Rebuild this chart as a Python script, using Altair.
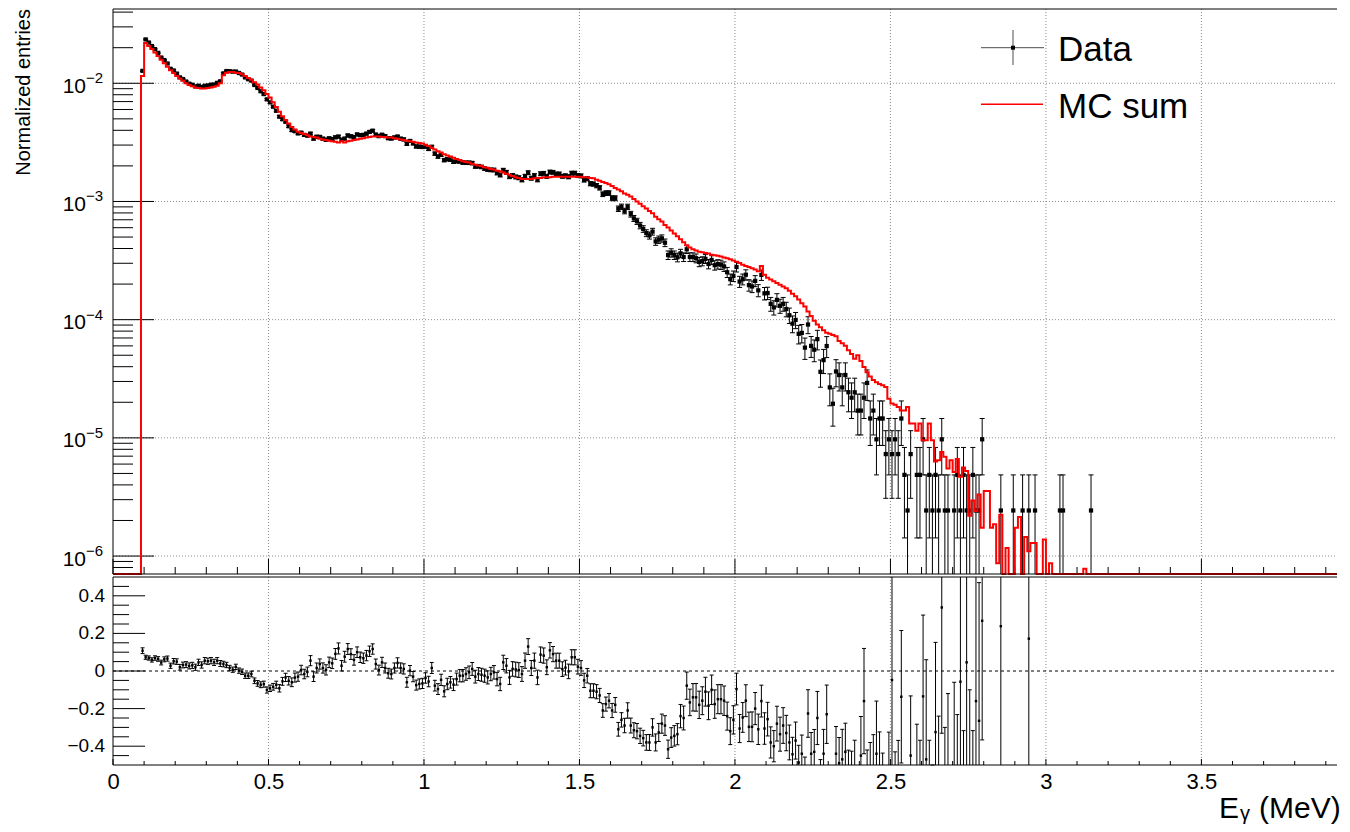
import math
import altair as alt
import numpy as np
import pandas as pd

# ---------------- values ----------------
BIN_WIDTH = 0.01
MC_FIRST_BIN = 0.09          # low edge of first non-empty MC bin
mc_sum = [
    # 0.09-0.18
    0.0115, 0.0219, 0.0207, 0.0195, 0.0182, 0.0170, 0.0158, 0.0148, 0.0138, 0.0129,
    # 0.19-0.28
    0.0122, 0.0115, 0.0110, 0.0105, 0.0100, 0.00966, 0.00944, 0.00923, 0.00912, 0.00902,
    # 0.29-0.38
    0.00902, 0.00912, 0.00923, 0.00933, 0.00955, 0.0100, 0.0117, 0.0123, 0.01245, 0.01245,
    # 0.39-0.48
    0.0123, 0.0122, 0.0119, 0.0115, 0.0111, 0.0107, 0.0102, 0.00977, 0.00923, 0.00871,
    # 0.49-0.58
    0.00813, 0.00759, 0.00692, 0.00631, 0.00575, 0.00525, 0.00490, 0.00457, 0.00427, 0.00407,
    # 0.59-0.68
    0.00389, 0.00380, 0.00372, 0.00363, 0.00355, 0.00351, 0.00347, 0.00339, 0.00335, 0.00331,
    # 0.69-0.78
    0.00327, 0.00324, 0.00320, 0.00316, 0.00324, 0.00316, 0.00324, 0.00327, 0.00331, 0.00335,
    # 0.79-0.88
    0.00339, 0.00343, 0.00347, 0.00351, 0.00355, 0.00355, 0.00355, 0.00351, 0.00351, 0.00347,
    # 0.89-0.98
    0.00347, 0.00343, 0.00339, 0.00335, 0.00331, 0.00327, 0.00324, 0.00320, 0.00316, 0.00313,
    # 0.99-1.08
    0.00309, 0.00302, 0.00295, 0.00285, 0.00275, 0.00266, 0.00260, 0.00251, 0.00245, 0.00240,
    # 1.09-1.18
    0.00234, 0.00229, 0.00224, 0.00219, 0.00216, 0.00214, 0.00209, 0.00204, 0.00202, 0.00200,
    # 1.19-1.28
    0.00195, 0.00193, 0.00188, 0.00186, 0.00182, 0.00180, 0.00176, 0.00172, 0.00168, 0.00164,
    # 1.29-1.38
    0.00160, 0.00158, 0.00155, 0.00155, 0.00155, 0.00155, 0.00157, 0.00158, 0.00158, 0.00160,
    # 1.39-1.48
    0.00160, 0.00160, 0.00162, 0.00162, 0.00162, 0.00162, 0.00162, 0.00162, 0.00162, 0.00162,
    # 1.49-1.58
    0.00162, 0.00162, 0.00160, 0.00160, 0.00158, 0.00157, 0.00153, 0.00150, 0.00146, 0.00143,
    # 1.59-1.68
    0.00140, 0.00135, 0.00130, 0.00126, 0.00122, 0.00117, 0.00114, 0.00110, 0.00105, 0.00100,
    # 1.69-1.78
    0.000955, 0.000912, 0.000871, 0.000832, 0.000794, 0.000741, 0.000708, 0.000676, 0.000631, 0.000603,
    # 1.79-1.88
    0.000569, 0.000537, 0.000507, 0.000479, 0.000452, 0.000427, 0.000407, 0.000394, 0.000385, 0.000376,
    # 1.89-1.98
    0.000372, 0.000367, 0.000363, 0.000355, 0.000351, 0.000347, 0.000343, 0.000335, 0.000331, 0.000324,
    # 1.99-2.08
    0.000316, 0.000309, 0.000302, 0.000292, 0.000285, 0.000279, 0.000272, 0.000266, 0.000257, 0.000285,
    # 2.09-2.18
    0.000240, 0.000226, 0.000219, 0.000211, 0.000204, 0.000197, 0.000191, 0.000184, 0.000176, 0.000166,
    # 2.19-2.28
    0.000158, 0.000148, 0.000138, 0.000129, 0.0001175, 0.0001072, 0.0000977, 0.0000912, 0.0000861, 0.0000813,
    # 2.29-2.38
    0.0000776, 7.59e-5, 7.41e-5, 7.24e-5, 6.61e-5, 6.31e-5, 6.03e-5, 5.50e-5, 5.13e-5, 4.68e-5,
    # 2.39-2.48
    5.01e-5, 4.47e-5, 3.98e-5, 3.59e-5, 3.31e-5, 3.09e-5, 2.95e-5, 2.85e-5, 2.79e-5, 2.69e-5,
    # 2.49-2.58
    2.14e-5, 1.95e-5, 1.91e-5, 1.82e-5, 1.70e-5, 1.70e-5, 1.82e-5, 1.32e-5, 1.32e-5, 1.15e-5,
    # 2.59-2.68
    1.32e-5, 9.55e-6, 9.55e-6, 1.32e-5, 9.55e-6, 6.31e-6, 6.46e-6, 7.59e-6, 6.92e-6, 5.50e-6,
    # 2.69-2.78
    6.46e-6, 5.13e-6, 6.61e-6, 4.68e-6, 5.62e-6, 5.25e-6, 2.19e-6, 2.95e-6, 2.40e-6, 3.31e-6,
    # 2.79-2.88
    1.74e-6, 3.55e-6, 3.55e-6, 1.74e-6, 1.86e-6, 8.7e-7, 2.24e-6, 0, 1.17e-6, 0,
    # 2.89-2.98
    0, 1.74e-6, 2.14e-6, 0, 1.45e-6, 1.10e-6, 1.29e-6, 1.29e-6, 0, 0,
    # 2.99-3.08
    1.38e-6, 0, 8.7e-7, 0, 0, 0, 0, 0, 0, 0,
    # 3.09-3.12
    0, 0, 0, 7.8e-7,
]

DATA_FIRST_BIN = 0.09
data_norm = [
    # 0.09-0.18
    0.01274, 0.02350, 0.02213, 0.02065, 0.01946, 0.01809, 0.01651, 0.01572, 0.01471, 0.01326,
    # 0.19-0.28
    0.01283, 0.01208, 0.01122, 0.01084, 0.01034, 0.00992, 0.00972, 0.00941, 0.00954, 0.00931,
    # 0.29-0.38
    0.00952, 0.00959, 0.00974, 0.00976, 0.01008, 0.01040, 0.01213, 0.01269, 0.01265, 0.01254,
    # 0.39-0.48
    0.01257, 0.01222, 0.01185, 0.01121, 0.01082, 0.01053, 0.00967, 0.00913, 0.00856, 0.00810,
    # 0.49-0.58
    0.00731, 0.00689, 0.00634, 0.00585, 0.00522, 0.00496, 0.00473, 0.00433, 0.00401, 0.00393,
    # 0.59-0.68
    0.00377, 0.00382, 0.00366, 0.00361, 0.00375, 0.00340, 0.00353, 0.00352, 0.00340, 0.00333,
    # 0.69-0.78
    0.00342, 0.00337, 0.00349, 0.00354, 0.00333, 0.00340, 0.00362, 0.00356, 0.00351, 0.00369,
    # 0.79-0.88
    0.00364, 0.00366, 0.00375, 0.00388, 0.00397, 0.00368, 0.00357, 0.00367, 0.00357, 0.00343,
    # 0.89-0.98
    0.00341, 0.00348, 0.00354, 0.00340, 0.00335, 0.00307, 0.00325, 0.00310, 0.00292, 0.00291,
    # 0.99-1.08
    0.00289, 0.00291, 0.00278, 0.00290, 0.00254, 0.00240, 0.00248, 0.00224, 0.00228, 0.002256,
    # 1.09-1.18
    0.002169, 0.002192, 0.002184, 0.002135, 0.002125, 0.002125, 0.002113, 0.001979, 0.001988, 0.00196,
    # 1.19-1.28
    0.001901, 0.001864, 0.00185, 0.001847, 0.001742, 0.001676, 0.001841, 0.001768, 0.001623, 0.001658,
    # 1.29-1.38
    0.001613, 0.001588, 0.001525, 0.001635, 0.001752, 0.001575, 0.001656, 0.001526, 0.001717, 0.001731,
    # 1.39-1.48
    0.001632, 0.001776, 0.001766, 0.001709, 0.001709, 0.001636, 0.001649, 0.001617, 0.001738, 0.001738,
    # 1.49-1.58
    0.001657, 0.001646, 0.00152, 0.00156, 0.001414, 0.001405, 0.001362, 0.001305, 0.001153, 0.001178,
    # 1.59-1.68
    0.001179, 0.001067, 0.001066, 0.000869, 0.000903, 0.000831, 0.000901, 0.000781, 0.000719, 0.00068,
    # 1.69-1.78
    0.000626, 0.000586, 0.00054, 0.000516, 0.000556, 0.000459, 0.000476, 0.000487, 0.000448, 0.000352,
    # 1.79-1.88
    0.000368, 0.000352, 0.000337, 0.000364, 0.000339, 0.000394, 0.000339, 0.000339, 0.000331, 0.000308,
    # 1.89-1.98
    0.000313, 0.000327, 0.000296, 0.00032, 0.000289, 0.000295, 0.000292, 0.000282, 0.000252, 0.00022,
    # 1.99-2.08
    0.000234, 0.000279, 0.00021, 0.00022, 0.00024, 0.000196, 0.000191, 0.000213, 0.000177, 0.000239,
    # 2.09-2.18
    0.000167, 0.000168, 0.000136, 0.000127, 0.000147, 0.000131, 0.000136, 0.000123, 0.000109, 0.0000925,
    # 2.19-2.28
    0.0000995, 0.0000759, 0.0000773, 0.000058, 0.000091, 0.000060, 0.0000557, 0.0000684, 0.0000362, 0.0000455,
    # 2.29
    0.0000598,
]

TAIL_FIRST_BIN = 2.30
ENTRY_WEIGHT = 2.43e-6       # normalized height of one data entry
data_tail_counts = [
    # 2.30-2.39
    11, 8, 15, 14, 11, 14, 10, 9, 10, 7,
    # 2.40-2.49
    7, 9, 12, 6, 7, 4, 6, 6, 3, 4,
    # 2.50-2.59
    3, 4, 3, 6, 2, 1, 3, 0, 2, 2,
    # 2.60-2.69
    4, 1, 2, 1, 2, 1, 4, 1, 1, 0,
    # 2.70-2.79
    1, 2, 1, 2, 1, 1, 2, 1, 1, 4,
    # 2.80-2.89
    0, 0, 0, 0, 0, 1, 0, 0, 0, 1,
    # 2.90-2.99
    0, 0, 1, 0, 1, 0, 1, 0, 0, 0,
    # 3.00-3.09
    0, 0, 0, 0, 1, 1, 0, 0, 0, 0,
    # 3.10-3.14
    0, 0, 0, 0, 1,
]

RATIO_FIRST_BIN = 0.09
ratio = [
    # 0.09-0.18
    0.108, 0.073, 0.069, 0.059, 0.069, 0.064, 0.045, 0.062, 0.066, 0.028,
    # 0.19-0.28
    0.052, 0.05, 0.02, 0.032, 0.034, 0.027, 0.03, 0.02, 0.046, 0.032,
    # 0.29-0.38
    0.055, 0.052, 0.055, 0.046, 0.055, 0.04, 0.037, 0.032, 0.016, 0.007,
    # 0.39-0.48
    0.022, 0.002, -0.004, -0.025, -0.025, -0.016, -0.052, -0.066, -0.073, -0.07,
    # 0.49-0.58
    -0.101, -0.092, -0.084, -0.073, -0.092, -0.055, -0.034, -0.052, -0.06, -0.035,
    # 0.59-0.68
    -0.03, 0.005, -0.016, -0.005, 0.055, -0.03, 0.016, 0.037, 0.016, 0.006,
    # 0.69-0.78
    0.046, 0.041, 0.091, 0.12, 0.028, 0.076, 0.117, 0.09, 0.059, 0.1,
    # 0.79-0.88
    0.073, 0.068, 0.082, 0.105, 0.117, 0.037, 0.005, 0.046, 0.016, -0.012,
    # 0.89-0.98
    -0.016, 0.016, 0.043, 0.016, 0.011, -0.06, 0.002, -0.03, -0.075, -0.069,
    # 0.99-1.08
    -0.066, -0.037, -0.056, 0.016, -0.078, -0.096, -0.047, -0.108, -0.069, -0.06,
    # 1.09-1.18
    -0.073, -0.043, -0.025, -0.025, -0.016, -0.007, 0.011, -0.03, -0.016, -0.02,
    # 1.19-1.28
    -0.025, -0.034, -0.016, -0.007, -0.043, -0.069, 0.046, 0.028, -0.034, 0.011,
    # 1.29-1.38
    0.008, 0.005, -0.016, 0.055, 0.13, 0.016, 0.055, -0.034, 0.087, 0.082,
    # 1.39-1.48
    0.02, 0.11, 0.09, 0.055, 0.055, 0.01, 0.018, -0.002, 0.073, 0.073,
    # 1.49-1.58
    0.023, 0.016, -0.05, -0.025, -0.105, -0.105, -0.11, -0.13, -0.21, -0.176,
    # 1.59-1.68
    -0.158, -0.21, -0.18, -0.31, -0.26, -0.29, -0.21, -0.29, -0.315, -0.32,
    # 1.69-1.78
    -0.345, -0.357, -0.38, -0.38, -0.30, -0.38, -0.327, -0.28, -0.29, -0.416,
    # 1.79-1.88
    -0.354, -0.345, -0.336, -0.24, -0.25, -0.078, -0.167, -0.14, -0.14, -0.18,
    # 1.89-1.98
    -0.158, -0.11, -0.185, -0.10, -0.176, -0.15, -0.15, -0.158, -0.24, -0.32,
    # 1.99-2.08
    -0.26, -0.096, -0.306, -0.247, -0.158, -0.297, -0.297, -0.2, -0.31, -0.16,
    # 2.09-2.18
    -0.306, -0.256, -0.38, -0.40, -0.28, -0.336, -0.29, -0.33, -0.38, -0.443,
    # 2.19-2.28
    -0.37, -0.487, -0.44, -0.55, -0.226, -0.44, -0.43, -0.25, -0.58, -0.44,
    # 2.29-2.38
    -0.23, -0.65, -0.74, -0.44, -0.49, -0.47, -0.43, -0.56, -0.57, -0.52,
    # 2.39-2.48
    -0.66, -0.45, -0.16, -0.55, -0.56, -0.52, -0.44, -0.52, -0.6, -0.73,
    # 2.49-2.58
    -0.55, -0.048, -0.62, -0.6, -0.137, -0.73, -0.82, -0.45, None, -0.58,
    # 2.59-2.68
    -0.63, -0.135, -0.47, -0.63, -0.75, -0.325, -0.62, 0.338, -0.65, -0.56,
    # 2.69-2.78
    None, -0.53, -0.55, -0.057, -0.6, 0.046, -0.55, -0.6, -0.16, -0.265,
    # 2.79-2.88
    0.267, None, None, None, None, None, 0.238, None, None, None,
    # 2.89-2.94
    None, None, None, None, None, 0.172,
]

x_major_ticks = [0, 0.5, 1, 1.5, 2, 2.5, 3, 3.5]
y_decades = [1e-6, 1e-5, 1e-4, 1e-3, 1e-2]
y_decade_exponents = ["\u22126", "\u22125", "\u22124", "\u22123", "\u22122"]
ratio_major_ticks = [-0.4, -0.2, 0, 0.2, 0.4]
ratio_tick_labels = ["\u22120.4", "\u22120.2", "0", "0.2", "0.4"]
legend_labels = ["Data", "MC sum"]
x_title_parts = ["E", "\u03b3", "(MeV)"]
y_title = "Normalized entries"

# ---------------- layout / style ----------------
FONT = "Liberation Sans"
W_PLOT = 1224
H_TOP = 565
GAP = 3
H_BOT = 188
B0 = H_TOP + GAP            # top edge of ratio panel
H_ALL = B0 + H_BOT          # bottom edge of ratio panel
X_MAX = 3.936
Y_LO, Y_HI = 7.05e-7, 0.0425
FLOOR = 1e-12
GRID = dict(color="#8c8c8c", strokeDash=[1, 2], strokeWidth=1)
TITLE_BASE = H_ALL + 53
TITLE_X = 1106

def bin_index(x):
    return int(round(x / BIN_WIDTH))

# MC step line over the whole axis
mc_rows = [(0.0, 0.0)]
k0 = bin_index(MC_FIRST_BIN)
for i, v in enumerate(mc_sum):
    mc_rows.append(((k0 + i) * BIN_WIDTH, v))
mc_rows.append(((k0 + len(mc_sum)) * BIN_WIDTH, 0.0))
mc_rows.append((X_MAX, 0.0))
mc_df = pd.DataFrame(mc_rows, columns=["x", "mc"])
mc_df["mc_plot"] = mc_df["mc"].where(mc_df["mc"] > 0, FLOOR)

# data points
data_by_bin = {}
k0 = bin_index(DATA_FIRST_BIN)
for i, v in enumerate(data_norm):
    data_by_bin[k0 + i] = v
k0 = bin_index(TAIL_FIRST_BIN)
for i, c in enumerate(data_tail_counts):
    data_by_bin[k0 + i] = c * ENTRY_WEIGHT

top_rows = []
for k, v in sorted(data_by_bin.items()):
    if v <= 0:
        continue
    n = v / ENTRY_WEIGHT
    err = math.sqrt(n) * ENTRY_WEIGHT
    lo = v - err
    top_rows.append(dict(x=k * BIN_WIDTH + BIN_WIDTH / 2, y=v, hi=v + err,
                         lo=lo if lo > v * 1e-6 else FLOOR, has_lo=lo > v * 1e-6))
top_df = pd.DataFrame(top_rows)
top_lo_df = top_df[top_df["has_lo"]]

# ratio points
rat_rows = []
k0 = bin_index(RATIO_FIRST_BIN)
for i, r in enumerate(ratio):
    if r is None:
        continue
    k = k0 + i
    v = data_by_bin.get(k, 0)
    if v <= 0:
        continue
    n = v / ENTRY_WEIGHT
    err = (1 + r) / math.sqrt(n)
    rat_rows.append(dict(x=k * BIN_WIDTH + BIN_WIDTH / 2, r=r, lo=r - err, hi=r + err))
rat_df = pd.DataFrame(rat_rows)
inside = lambda s: (s >= -0.5) & (s <= 0.5)
rat_pts_df = rat_df[inside(rat_df["r"])]
rat_hi_df = rat_df[inside(rat_df["hi"])]
rat_lo_df = rat_df[inside(rat_df["lo"])]
rat_bar_df = rat_df[(rat_df["hi"] >= -0.5) & (rat_df["lo"] <= 0.5)]

# axis decoration positions
xmaj_df = pd.DataFrame({"x": x_major_ticks})
xgrid_df = pd.DataFrame({"x": x_major_ticks[1:]})
xmin_df = pd.DataFrame({"x": [round(0.1 * i, 2) for i in range(0, 40) if i % 5 != 0]})
ydec_df = pd.DataFrame({"y": y_decades, "e": y_decade_exponents})
yminor_vals = [m * 10.0 ** d for d in range(-7, -1) for m in range(2, 10)]
ymin_df = pd.DataFrame({"y": [v for v in yminor_vals if Y_LO <= v <= Y_HI]})
rmaj_df = pd.DataFrame({"y": ratio_major_ticks, "label": ratio_tick_labels})
rmin_df = pd.DataFrame({"y": [round(-0.45 + 0.05 * i, 2) for i in range(19)
                              if round(-0.45 + 0.05 * i, 2) not in ratio_major_ticks]})
zero_df = pd.DataFrame({"y": [0.0]})
one = pd.DataFrame({"a": [0]})

x_scale = alt.Scale(domain=[0, X_MAX], nice=False, zero=False)
yt_scale = alt.Scale(type="log", domain=[Y_LO, Y_HI], range=[H_TOP, 0], clamp=True, nice=False)
yb_scale = alt.Scale(domain=[-0.5, 0.5], range=[H_ALL, B0], clamp=True, nice=False, zero=False)

x_axis = alt.Axis(values=x_major_ticks, format="~g", labelFontSize=22, labelFont=FONT,
                  labelColor="black", labelPadding=6, ticks=False, domain=False, grid=False,
                  title=None, labelFlush=False, labelOverlap=False)

def X(f):
    return alt.X(f"{f}:Q", scale=x_scale, axis=x_axis)

def YT(f):
    return alt.Y(f"{f}:Q", scale=yt_scale, axis=None)

def YB(f):
    return alt.Y(f"{f}:Q", scale=yb_scale, axis=None)

def hrule(y, x1=0, x2=W_PLOT, **kw):
    return alt.Chart(one).mark_rule(color="black", strokeWidth=1, **kw).encode(
        x=alt.value(x1), x2=alt.value(x2), y=alt.value(y))

def vrule(x, y1, y2, **kw):
    return alt.Chart(one).mark_rule(color="black", strokeWidth=1, **kw).encode(
        x=alt.value(x), y=alt.value(y1), y2=alt.value(y2))

def text_at(s, x, y, size, **kw):
    return alt.Chart(pd.DataFrame({"t": [s]})).mark_text(
        baseline="alphabetic", fontSize=size, font=FONT, color="black", **kw).encode(
        x=alt.value(x), y=alt.value(y), text="t:N")

# ---------------- top panel ----------------
t_grid_x = alt.Chart(xgrid_df).mark_rule(**GRID).encode(x=X("x"), y=alt.value(0), y2=alt.value(H_TOP))
t_grid_y = alt.Chart(ydec_df).mark_rule(**GRID).encode(y=YT("y"), x=alt.value(0), x2=alt.value(W_PLOT))
t_ytick_maj = alt.Chart(ydec_df).mark_rule(color="black").encode(y=YT("y"), x=alt.value(0), x2=alt.value(41))
t_ytick_min = alt.Chart(ymin_df).mark_rule(color="black").encode(y=YT("y"), x=alt.value(0), x2=alt.value(20))
t_xtick_maj = alt.Chart(xmaj_df).mark_rule(color="black").encode(x=X("x"), y=alt.value(H_TOP), y2=alt.value(H_TOP - 15))
t_xtick_min = alt.Chart(xmin_df).mark_rule(color="black").encode(x=X("x"), y=alt.value(H_TOP), y2=alt.value(H_TOP - 7))
t_lab10 = alt.Chart(ydec_df).mark_text(align="right", baseline="alphabetic", dy=9.5, fontSize=21,
                                       font=FONT, color="black").encode(
    y=YT("y"), x=alt.value(-27), text=alt.value("10"))
t_labexp = alt.Chart(ydec_df).mark_text(align="left", baseline="alphabetic", dy=0, fontSize=15,
                                        font=FONT, color="black").encode(
    y=YT("y"), x=alt.value(-27), text="e:N")
t_title = text_at(y_title, -83, 0, 20, angle=270, align="right")

t_mc = alt.Chart(mc_df).mark_line(interpolate="step-after", color="#ff0000", strokeWidth=2).encode(
    x=X("x"), y=YT("mc_plot"))
t_err = alt.Chart(top_df).mark_rule(color="black", strokeWidth=1).encode(x=X("x"), y=YT("lo"), y2="hi:Q")
t_cap_hi = alt.Chart(top_df).mark_tick(orient="horizontal", size=5, thickness=1, color="black",
                                       opacity=1).encode(x=X("x"), y=YT("hi"))
t_cap_lo = alt.Chart(top_lo_df).mark_tick(orient="horizontal", size=5, thickness=1, color="black",
                                          opacity=1).encode(x=X("x"), y=YT("lo"))
t_pts = alt.Chart(top_df).mark_square(size=18, color="black", opacity=1).encode(x=X("x"), y=YT("y"))

# legend
lg_h = hrule(38.7, 868, 931, opacity=0.7)
lg_v = vrule(900, 21, 56, opacity=0.7)
lg_sq = alt.Chart(one).mark_square(size=16, color="black", opacity=1).encode(
    x=alt.value(900), y=alt.value(38.7))
lg_mc = alt.Chart(one).mark_rule(color="#ff0000", strokeWidth=1.5).encode(
    x=alt.value(868), x2=alt.value(930), y=alt.value(95.3))
lg_t1 = text_at(legend_labels[0], 945, 52, 35, align="left")
lg_t2 = text_at(legend_labels[1], 945, 108.7, 35, align="left")

# ---------------- ratio panel ----------------
b_grid_x = alt.Chart(xgrid_df).mark_rule(**GRID).encode(x=X("x"), y=alt.value(B0), y2=alt.value(H_ALL))
b_zero = alt.Chart(zero_df).mark_rule(color="black", strokeDash=[3, 3], strokeWidth=1).encode(
    y=YB("y"), x=alt.value(0), x2=alt.value(W_PLOT))
b_ytick_maj = alt.Chart(rmaj_df).mark_rule(color="black").encode(y=YB("y"), x=alt.value(0), x2=alt.value(32))
b_ytick_min = alt.Chart(rmin_df).mark_rule(color="black").encode(y=YB("y"), x=alt.value(0), x2=alt.value(16))
b_ylab = alt.Chart(rmaj_df).mark_text(align="right", baseline="middle", fontSize=19, font=FONT,
                                      color="black").encode(y=YB("y"), x=alt.value(-8), text="label:N")
b_xtick_maj = alt.Chart(xmaj_df).mark_rule(color="black").encode(x=X("x"), y=alt.value(H_ALL), y2=alt.value(H_ALL - 6))
b_xtick_min = alt.Chart(xmin_df).mark_rule(color="black").encode(x=X("x"), y=alt.value(H_ALL), y2=alt.value(H_ALL - 4))
b_err = alt.Chart(rat_bar_df).mark_rule(color="black", strokeWidth=1).encode(
    x=X("x"), y=YB("lo"), y2="hi:Q")
b_cap_hi = alt.Chart(rat_hi_df).mark_tick(orient="horizontal", size=4, thickness=1, color="black",
                                          opacity=1).encode(x=X("x"), y=YB("hi"))
b_cap_lo = alt.Chart(rat_lo_df).mark_tick(orient="horizontal", size=4, thickness=1, color="black",
                                          opacity=1).encode(x=X("x"), y=YB("lo"))
b_pts = alt.Chart(rat_pts_df).mark_square(size=6, color="black", opacity=1).encode(
    x=X("x"), y=YB("r"))

b_tE = text_at(x_title_parts[0], TITLE_X, TITLE_BASE, 30, align="left")
b_tg = text_at(x_title_parts[1], TITLE_X + 21, TITLE_BASE + 2, 20, align="left")
b_tu = text_at(x_title_parts[2], TITLE_X + 40, TITLE_BASE, 30, align="left")

frames = [
    hrule(0), hrule(H_TOP), vrule(0, 0, H_TOP),
    hrule(B0), hrule(H_ALL), vrule(0, B0, H_ALL),
]

chart = alt.layer(
    t_grid_x, t_grid_y, t_ytick_maj, t_ytick_min, t_xtick_maj, t_xtick_min,
    t_lab10, t_labexp, t_title,
    t_err, t_cap_hi, t_cap_lo, t_pts, t_mc,
    lg_h, lg_v, lg_sq, lg_mc, lg_t1, lg_t2,
    b_grid_x, b_zero, b_ytick_maj, b_ytick_min, b_ylab, b_xtick_maj, b_xtick_min,
    b_err, b_cap_hi, b_cap_lo, b_pts, b_tE, b_tg, b_tu,
    *frames,
).resolve_scale(y="independent").properties(
    width=W_PLOT, height=H_ALL,
    padding={"left": 6, "top": 0, "right": 0, "bottom": 0},
).configure(font=FONT).configure_view(strokeWidth=0)

chart.save("out.html", embed_options={"renderer": "svg", "actions": False})
